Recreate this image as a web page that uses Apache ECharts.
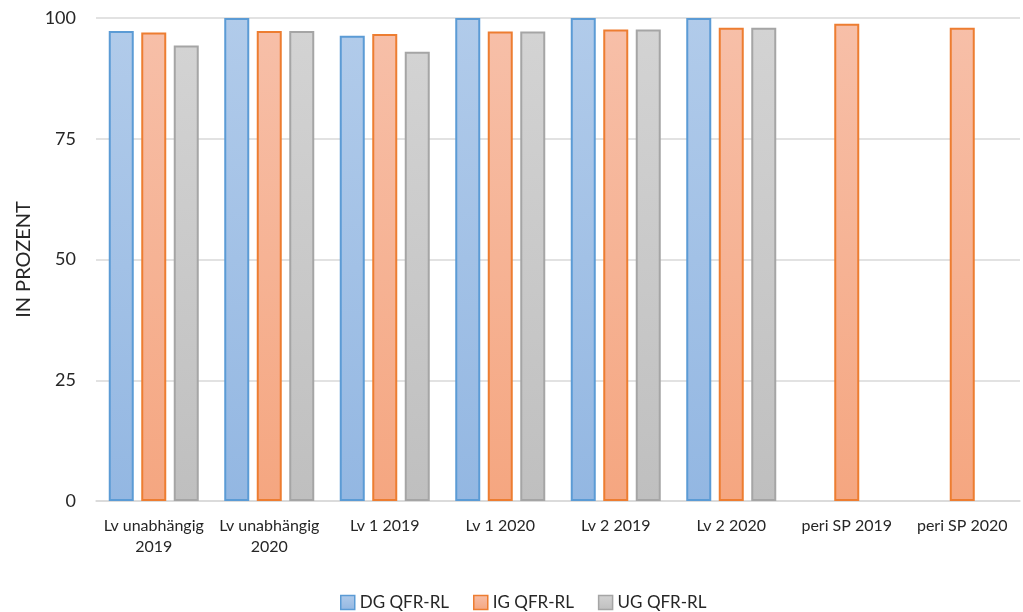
<!DOCTYPE html>
<html>
<head>
<meta charset="utf-8">
<script src="https://cdn.jsdelivr.net/npm/echarts@6/dist/echarts.min.js"></script>
<style>html,body{margin:0;padding:0;background:#fff}#c{width:1023px;height:612px}</style>
</head>
<body>
<div id="c"></div>
<script>
var categories = ['Lv unabhängig\n2019', 'Lv unabhängig\n2020', 'Lv 1 2019', 'Lv 1 2020', 'Lv 2 2019', 'Lv 2 2020', 'peri SP 2019', 'peri SP 2020'];
var dgValues = [97.3, 100, 96.3, 100, 100, 100, null, null];
var igValues = [97.0, 97.3, 96.7, 97.2, 97.6, 98.0, 98.8, 98.0];
var ugValues = [94.3, 97.3, 93.0, 97.2, 97.6, 98.0, null, null];
var seriesNames = ['DG QFR-RL', 'IG QFR-RL', 'UG QFR-RL'];
var yTicks = [0, 25, 50, 75, 100];

var FONT = 'Lato, "Liberation Sans", sans-serif';
function grad(top, bottom) {
  return new echarts.graphic.LinearGradient(0, 0, 0, 1, [
    {offset: 0, color: top}, {offset: 1, color: bottom}
  ]);
}
var styles = [
  {fill: grad('#b1cbea', '#93b7e2'), border: '#5b9bd5'},
  {fill: grad('#f7bfa8', '#f5a680'), border: '#ed7d31'},
  {fill: grad('#d3d3d3', '#bfbfbf'), border: '#a5a5a5'}
];
var dataSets = [dgValues, igValues, ugValues];

var chart = echarts.init(document.getElementById('c'));
chart.setOption({
  animation: false,
  grid: {left: 96, right: 3, top: 18, bottom: 111, containLabel: false},
  legend: {
    top: 589, left: 335,
    itemWidth: 14, itemHeight: 14, itemGap: 24,
    textStyle: {fontFamily: FONT, fontSize: 17, color: '#262626'},
    data: seriesNames.map(function (n, i) {
      return {name: n, icon: 'rect', itemStyle: {color: styles[i].fill, borderColor: styles[i].border, borderWidth: 1.5}};
    })
  },
  xAxis: {
    type: 'category', data: categories,
    axisLine: {lineStyle: {color: '#d9d9d9', width: 1.5}},
    axisTick: {show: false},
    axisLabel: {fontFamily: FONT, fontSize: 16, color: '#262626', margin: 14, lineHeight: 21, interval: 0}
  },
  yAxis: {
    type: 'value', min: 0, max: 100, interval: 25,
    name: 'IN PROZENT', nameLocation: 'middle', nameGap: 60, nameRotate: 90,
    nameTextStyle: {fontFamily: FONT, fontSize: 20, color: '#262626'},
    axisLine: {show: false}, axisTick: {show: false},
    axisLabel: {fontFamily: FONT, fontSize: 18, color: '#262626', margin: 20,
      formatter: function (v) { return yTicks.indexOf(v) >= 0 ? String(v) : ''; }},
    splitLine: {lineStyle: {color: '#d9d9d9', width: 1.5}}
  },
  series: seriesNames.map(function (n, i) {
    return {
      name: n, type: 'bar', data: dataSets[i],
      barWidth: 25, barGap: '30%',
      itemStyle: {color: styles[i].fill, borderColor: styles[i].border, borderWidth: 2}
    };
  })
});
</script>
</body>
</html>
